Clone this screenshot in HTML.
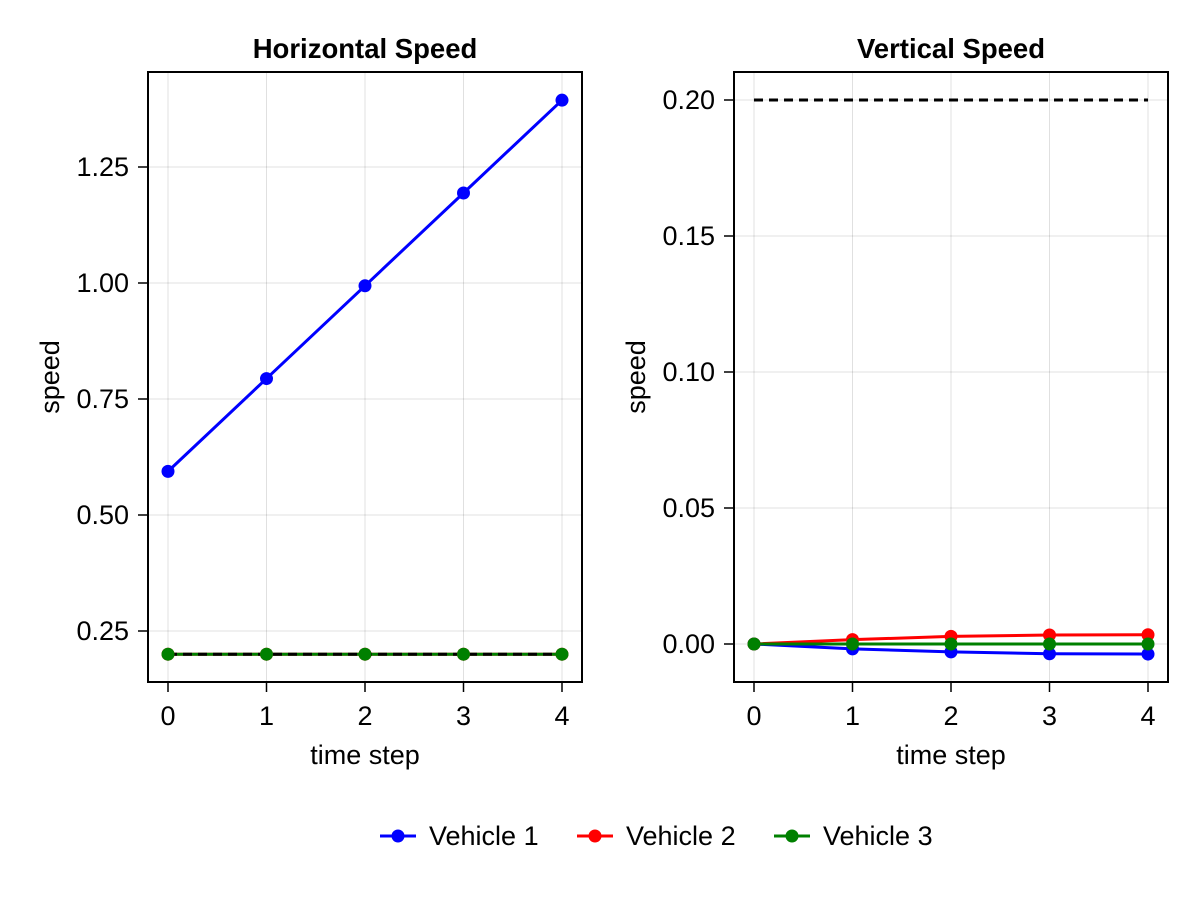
<!DOCTYPE html>
<html><head><meta charset="utf-8"><style>
body{margin:0;background:#fff;}
svg text{font-family:"Liberation Sans",sans-serif;fill:#000;}
</style></head><body>
<svg id="c" width="1200" height="900" xmlns="http://www.w3.org/2000/svg"></svg>
<script>
const steps=[0,1,2,3,4];
const hV1=[0.594,0.794,0.994,1.194,1.394];
const hV2=[0.2,0.2,0.2,0.2,0.2];
const hV3=[0.2,0.2,0.2,0.2,0.2];
const hLimit=0.2;
const vV1=[0,-0.0018,-0.0029,-0.0036,-0.0037];
const vV2=[0,0.0016,0.0028,0.0033,0.0034];
const vV3=[0,0,0,0,0];
const vLimit=0.2;
const hTicks=[0.25,0.5,0.75,1.0,1.25];
const hTickLabels=["0.25","0.50","0.75","1.00","1.25"];
const vTicks=[0,0.05,0.1,0.15,0.2];
const vTickLabels=["0.00","0.05","0.10","0.15","0.20"];
const seriesNames=["Vehicle 1","Vehicle 2","Vehicle 3"];
const colors=["#0000ff","#ff0000","#008000"];
const NS="http://www.w3.org/2000/svg";
const svg=document.getElementById('c');
function mk(tag,attrs,parent){const e=document.createElementNS(NS,tag);for(const k in attrs)e.setAttribute(k,attrs[k]);(parent||svg).appendChild(e);return e;}
function panel(cfg){
  const g=mk('g',{});
  
  
  const L=cfg.x0,R=cfg.x1,T=72,B=682;
  const xs=v=>cfg.px0+(v-0)*(cfg.px4-cfg.px0)/4;
  const ys=v=>cfg.pyA+(v-cfg.vA)*(cfg.pyB-cfg.pyA)/(cfg.vB-cfg.vA);
  steps.forEach(s=>{const l=mk('line',{x1:xs(s),x2:xs(s),y1:T,y2:B,stroke:'#000','stroke-opacity':0.12,'stroke-width':1},g);});
  cfg.ticks.forEach((t,i)=>{
    const l=mk('line',{x1:L,x2:R,y1:ys(t),y2:ys(t),stroke:'#000','stroke-opacity':0.12,'stroke-width':1},g);
    
    mk('line',{x1:L-10,x2:L,y1:ys(t),y2:ys(t),stroke:'#000','stroke-width':1.5},g);
    const tx=mk('text',{x:L-19,y:ys(t)+9,'text-anchor':'end','font-size':27},g);tx.textContent=cfg.labels[i];
    
  });
  steps.forEach(s=>{
    mk('line',{x1:xs(s),x2:xs(s),y1:B,y2:B+10,stroke:'#000','stroke-width':1.5},g);
    const tx=mk('text',{x:xs(s),y:B+43,'text-anchor':'middle','font-size':27},g);tx.textContent=s;
    
  });
  const data=cfg.data;
  data.forEach((d,i)=>{
    const p=mk('polyline',{points:d.map((v,j)=>xs(steps[j])+','+ys(v)).join(' '),fill:'none',stroke:colors[i],'stroke-width':3},g);
    
  });
  const dl=mk('line',{x1:xs(0),x2:xs(4),y1:ys(cfg.limit),y2:ys(cfg.limit),stroke:'#000','stroke-width':3,'stroke-dasharray':'9 6'},g);
  
  data.forEach((d,i)=>{d.forEach((v,j)=>{
    const c=mk('circle',{cx:xs(steps[j]),cy:ys(v),r:6.5,fill:colors[i]},g);
    
  });});
  const fr=mk('rect',{x:L,y:T,width:R-L,height:B-T,fill:'none',stroke:'#000','stroke-width':2},g);
  
  const ti=mk('text',{x:(L+R)/2,y:58,'text-anchor':'middle','font-size':27.5,'font-weight':'bold'},g);ti.textContent=cfg.title;
  
  const xl=mk('text',{x:(L+R)/2,y:764,'text-anchor':'middle','font-size':27},g);xl.textContent='time step';
  
  const yl=mk('text',{x:0,y:0,'text-anchor':'middle','font-size':27,transform:`translate(${L-89},${(T+B)/2}) rotate(-90)`},g);yl.textContent='speed';
  
}
panel({name:'horizontal-speed-panel',title:'Horizontal Speed',x0:148,x1:582,px0:168,px4:562,vA:0.25,pyA:631,vB:1.25,pyB:167,ticks:hTicks,labels:hTickLabels,data:[hV1,hV2,hV3],limit:hLimit});
panel({name:'vertical-speed-panel',title:'Vertical Speed',x0:734,x1:1168,px0:754,px4:1148,vA:0,pyA:644,vB:0.2,pyB:100,ticks:vTicks,labels:vTickLabels,data:[vV1,vV2,vV3],limit:vLimit});
const lg=mk('g',{});


const lx=[380,577,774];
seriesNames.forEach((n,i)=>{
  const e=mk('g',{},lg);
  
  
  mk('line',{x1:lx[i],x2:lx[i]+36,y1:836,y2:836,stroke:colors[i],'stroke-width':3},e);
  mk('circle',{cx:lx[i]+18,cy:836,r:6.5,fill:colors[i]},e);
  const t=mk('text',{x:lx[i]+49,y:845,'font-size':27},e);t.textContent=n;
});
</script>
</body></html>
